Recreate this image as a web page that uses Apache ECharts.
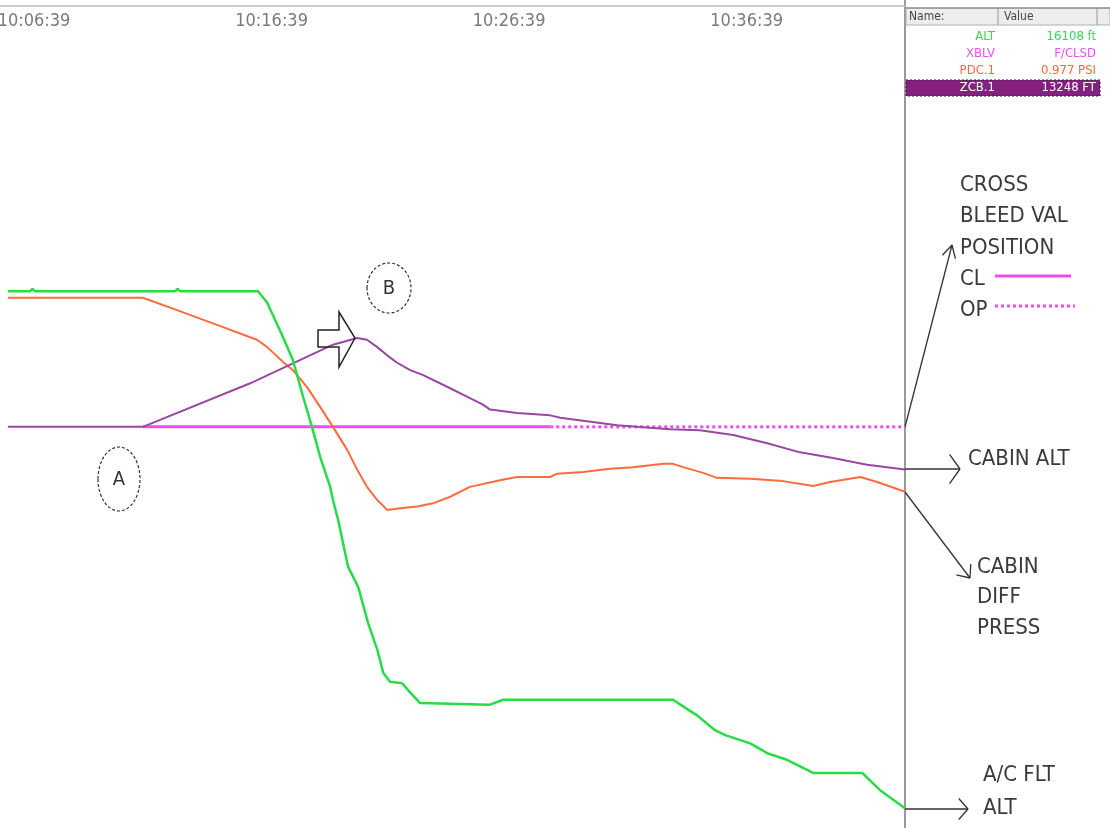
<!DOCTYPE html>
<html>
<head>
<meta charset="utf-8">
<script src="https://cdn.jsdelivr.net/npm/echarts@6/dist/echarts.min.js"></script>
<style>
  html, body { margin: 0; padding: 0; background: #fff; }
  #main { width: 1110px; height: 828px; }
</style>
</head>
<body>
<div id="main"></div>
<script>
// x values are seconds after 10:00:00, y values are % of each trace's scale
var tickTimes = [399, 999, 1599, 2199];

// ALT - aircraft flight altitude
var altTime  = [333, 389, 395, 401, 755, 762, 768, 965, 988, 1028, 1053, 1079, 1101, 1122, 1147, 1154, 1167, 1192, 1218, 1243, 1266, 1281, 1298, 1329, 1349, 1374, 1551, 1584, 2013, 2051, 2074, 2119, 2145, 2208, 2251, 2301, 2367, 2491, 2536, 2599];
var altValue = [65.3, 65.3, 65.6, 65.3, 65.3, 65.6, 65.3, 65.3, 63.9, 59.7, 56.9, 52.4, 48.8, 45.1, 41.5, 39.9, 37.5, 31.8, 29.3, 24.9, 21.7, 18.9, 17.8, 17.6, 16.5, 15.2, 15.0, 15.6, 15.6, 14.4, 13.7, 11.9, 11.3, 10.3, 9.1, 8.3, 6.7, 6.7, 4.6, 2.4];

// PDC.1 - cabin differential pressure
var pdcTime  = [333, 674, 760, 861, 962, 988, 1028, 1053, 1089, 1122, 1154, 1190, 1215, 1240, 1266, 1291, 1324, 1367, 1407, 1450, 1500, 1576, 1619, 1703, 1720, 1786, 1854, 1912, 1988, 2013, 2039, 2089, 2124, 2208, 2291, 2367, 2410, 2486, 2529, 2599];
var pdcValue = [64.5, 64.5, 63.0, 61.2, 59.4, 58.5, 56.7, 55.7, 53.6, 51.2, 48.8, 46.0, 43.6, 41.5, 39.9, 38.7, 38.9, 39.1, 39.5, 40.3, 41.5, 42.3, 42.7, 42.7, 43.1, 43.3, 43.7, 43.9, 44.3, 44.3, 43.9, 43.2, 42.6, 42.5, 42.2, 41.6, 42.1, 42.7, 42.1, 40.9];

// ZCB.1 - cabin altitude
var zcbTime  = [333, 674, 945, 1154, 1215, 1240, 1266, 1291, 1316, 1349, 1382, 1450, 1500, 1533, 1551, 1619, 1703, 1728, 1872, 1922, 2006, 2081, 2165, 2251, 2334, 2417, 2503, 2599];
var zcbValue = [48.8, 48.8, 54.1, 58.8, 59.6, 59.4, 58.5, 57.5, 56.6, 55.7, 55.1, 53.5, 52.3, 51.5, 50.9, 50.5, 50.2, 49.9, 49.0, 48.8, 48.5, 48.4, 47.8, 46.8, 45.7, 45.0, 44.2, 43.6];

// XBLV - cross bleed valve position (CL until 1703 s, then OP)
var xblvTime  = [674, 1703, 2599];
var xblvState = ['CL', 'OP'];
var xblvLevel = 48.8;

// table in the right panel
var tableNames  = ['ALT', 'XBLV', 'PDC.1', 'ZCB.1'];
var tableValues = ['16108 ft', 'F/CLSD', '0.977 PSI', '13248 FT'];
var tableColors = ['#2fd84f', '#e457e8', '#ff6a3a', '#ffffff'];

var GREEN = '#27dc48';
var ORANGE = '#ff6b3d';
var PURPLE = '#9848a0';
var MAGENTA = '#ee4cef';
var NARROW = '"Liberation Sans Narrow", "DejaVu Sans Condensed", "Liberation Sans", sans-serif';

function pairs(t, v) {
  var out = [];
  for (var i = 0; i < t.length; i++) out.push([t[i], v[i]]);
  return out;
}

function xblvSegment(state) {
  var out = [];
  for (var i = 0; i < xblvState.length; i++) {
    if (xblvState[i] === state) {
      out.push([xblvTime[i], xblvLevel], [xblvTime[i + 1], xblvLevel], null);
    }
  }
  return out;
}

function timeLabel(sec) {
  var m = Math.floor(sec / 60), s = sec % 60;
  return '10:' + (m < 10 ? '0' : '') + m + ':' + (s < 10 ? '0' : '') + s;
}

// arrow: shaft from (x1,y1) to tip (x2,y2) with two open wings
function arrow(x1, y1, x2, y2, len, ang) {
  var a = Math.atan2(y1 - y2, x1 - x2);
  var st = { stroke: '#333', lineWidth: 1.3 };
  return [
    { type: 'line', shape: { x1: x1, y1: y1, x2: x2, y2: y2 }, style: st },
    { type: 'line', shape: { x1: x2, y1: y2, x2: x2 + len * Math.cos(a + ang), y2: y2 + len * Math.sin(a + ang) }, style: st },
    { type: 'line', shape: { x1: x2, y1: y2, x2: x2 + len * Math.cos(a - ang), y2: y2 + len * Math.sin(a - ang) }, style: st }
  ];
}

function label(text, x, y, size, color) {
  return { type: 'text', x: x, y: y, style: { text: text, font: size + 'px ' + NARROW, fill: color || '#3a3a3a', verticalAlign: 'middle' } };
}

var graphics = [];
// panel separator
graphics.push({ type: 'line', shape: { x1: 905, y1: 0, x2: 905, y2: 828 }, style: { stroke: '#9a9a9a', lineWidth: 2 } });

// table
graphics.push({ type: 'rect', shape: { x: 906, y: 8, width: 204, height: 17 }, style: { fill: '#ededed', stroke: '#b0b0b0', lineWidth: 1 } });
graphics.push({ type: 'line', shape: { x1: 906, y1: 8, x2: 1110, y2: 8 }, style: { stroke: '#777', lineWidth: 1 } });
graphics.push({ type: 'line', shape: { x1: 998, y1: 8, x2: 998, y2: 25 }, style: { stroke: '#999', lineWidth: 1 } });
graphics.push({ type: 'line', shape: { x1: 1097, y1: 8, x2: 1097, y2: 25 }, style: { stroke: '#999', lineWidth: 1 } });
graphics.push(label('Name:', 909, 17, 12, '#444'));
graphics.push(label('Value', 1004, 17, 12, '#444'));
graphics.push({ type: 'rect', shape: { x: 906, y: 80, width: 194, height: 16 }, style: { fill: '#86207e', stroke: '#222', lineWidth: 1, lineDash: [2, 2] } });
for (var i = 0; i < tableNames.length; i++) {
  var ry = 37 + i * 17;
  graphics.push({ type: 'text', x: 995, y: ry, style: { text: tableNames[i], font: '13px ' + NARROW, fill: tableColors[i], align: 'right', verticalAlign: 'middle' } });
  graphics.push({ type: 'text', x: 1096, y: ry, style: { text: tableValues[i], font: '13px ' + NARROW, fill: tableColors[i], align: 'right', verticalAlign: 'middle' } });
}

// cross bleed valve legend
graphics.push(label('CROSS', 960, 185, 22));
graphics.push(label('BLEED VAL', 960, 216, 22));
graphics.push(label('POSITION', 960, 248, 22));
graphics.push(label('CL', 960, 279, 22));
graphics.push(label('OP', 960, 310, 22));
graphics.push({ type: 'line', shape: { x1: 995, y1: 276, x2: 1071, y2: 276 }, style: { stroke: MAGENTA, lineWidth: 3 } });
graphics.push({ type: 'line', shape: { x1: 995, y1: 306, x2: 1075, y2: 306 }, style: { stroke: MAGENTA, lineWidth: 3, lineDash: [3, 3] } });
graphics = graphics.concat(arrow(905, 427, 952, 245, 14, 0.5));

// cabin alt
graphics.push(label('CABIN ALT', 968, 459, 22));
graphics = graphics.concat(arrow(905, 469, 960, 469, 18, 0.95));

// cabin diff press
graphics.push(label('CABIN', 977, 567, 22));
graphics.push(label('DIFF', 977, 597, 22));
graphics.push(label('PRESS', 977, 628, 22));
graphics = graphics.concat(arrow(905, 492, 970, 578, 14, 0.7));

// a/c flight alt
graphics.push(label('A/C FLT', 983, 775, 22));
graphics.push(label('ALT', 983, 808, 22));
graphics = graphics.concat(arrow(905, 809, 968, 809, 14, 0.85));

// event marks A and B
graphics.push({ type: 'ellipse', shape: { cx: 119, cy: 479, rx: 21, ry: 32 }, style: { fill: 'none', stroke: '#333', lineWidth: 1.2, lineDash: [3, 2] } });
graphics.push({ type: 'text', x: 119, y: 480, style: { text: 'A', font: '20px ' + NARROW, fill: '#333', align: 'center', verticalAlign: 'middle' } });
graphics.push({ type: 'ellipse', shape: { cx: 389, cy: 288, rx: 22, ry: 25 }, style: { fill: 'none', stroke: '#333', lineWidth: 1.2, lineDash: [3, 2] } });
graphics.push({ type: 'text', x: 389, y: 289, style: { text: 'B', font: '20px ' + NARROW, fill: '#333', align: 'center', verticalAlign: 'middle' } });
graphics.push({ type: 'polygon', z: 100, shape: { points: [[318, 330], [339, 330], [339, 312], [355, 338], [339, 367], [339, 347], [318, 347]] }, style: { fill: 'none', stroke: '#222', lineWidth: 1.5 } });

var chart = echarts.init(document.getElementById('main'));
chart.setOption({
  animation: false,
  backgroundColor: '#fff',
  grid: { left: 0, right: 205, top: 6, bottom: 0, containLabel: false, outerBoundsMode: 'none' },
  xAxis: {
    type: 'value',
    position: 'top',
    min: 313,
    max: 2599,
    axisLine: { show: true, onZero: false, lineStyle: { color: '#bdbdbd', width: 1.5 } },
    axisTick: { show: false },
    splitLine: { show: false },
    axisLabel: {
      inside: true,
      margin: 6,
      customValues: tickTimes,
      formatter: timeLabel,
      color: '#7a7a7a',
      fontSize: 18,
      fontFamily: NARROW
    }
  },
  yAxis: { type: 'value', min: 0, max: 100, show: false },
  series: [
    { name: 'XBLV CL', type: 'line', data: xblvSegment('CL'), showSymbol: false, z: 1, lineStyle: { color: MAGENTA, width: 3 } },
    { name: 'XBLV OP', type: 'line', data: xblvSegment('OP'), showSymbol: false, z: 1, lineStyle: { color: MAGENTA, width: 3, type: [3, 3] } },
    { name: 'PDC.1', type: 'line', data: pairs(pdcTime, pdcValue), showSymbol: false, z: 2, lineStyle: { color: ORANGE, width: 2 } },
    { name: 'ZCB.1', type: 'line', data: pairs(zcbTime, zcbValue), showSymbol: false, z: 3, lineStyle: { color: PURPLE, width: 2 } },
    { name: 'ALT', type: 'line', data: pairs(altTime, altValue), showSymbol: false, z: 4, lineStyle: { color: GREEN, width: 2.5 } }
  ],
  graphic: graphics
});
</script>
</body>
</html>
